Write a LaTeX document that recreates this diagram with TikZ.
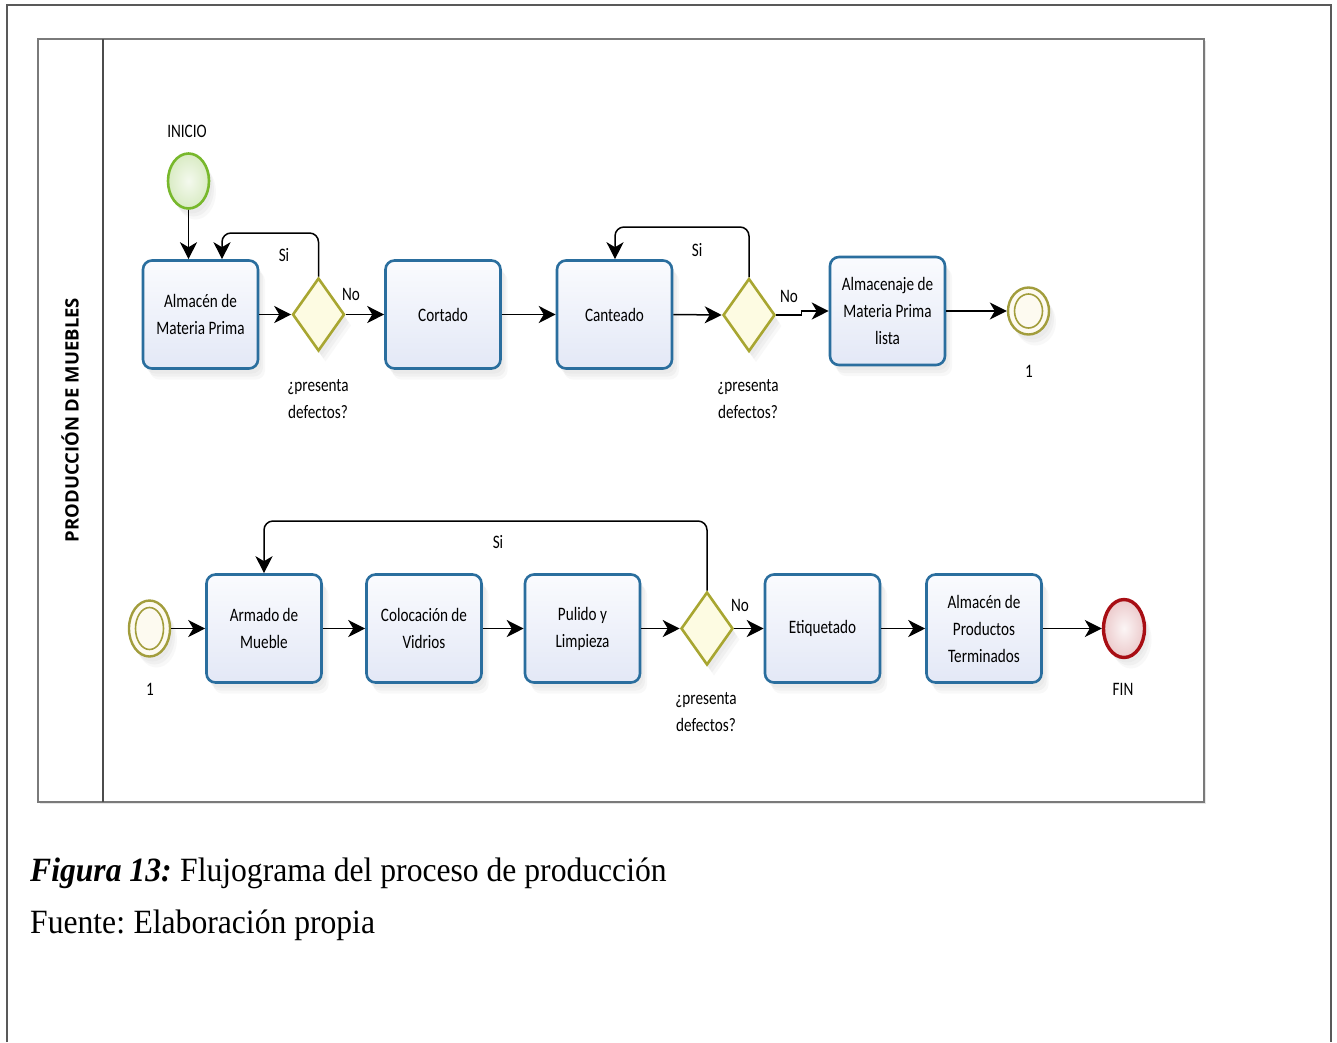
\documentclass[tikz,border=0pt]{standalone}
\usepackage{fontspec}
\setmainfont{Carlito}[FakeStretch=0.8]
\newfontfamily\capfont{Liberation Serif}[FakeStretch=0.93]
\newfontfamily\lanefont{Open Sans}
\usetikzlibrary{shapes.geometric,arrows.meta,shadows,calc}

\definecolor{taskborder}{HTML}{2A6E9E}
\definecolor{tasktop}{HTML}{FAFBFE}
\definecolor{taskbot}{HTML}{E3E8F6}
\definecolor{gateborder}{HTML}{A8A631}
\definecolor{gatefill}{HTML}{FDFBE2}
\definecolor{startborder}{HTML}{78B82C}
\definecolor{linkborder}{HTML}{A29D3C}
\definecolor{linkfill}{HTML}{FDFAF0}
\definecolor{endborder}{HTML}{A80E14}
\definecolor{poolline}{HTML}{7A7A7A}

\tikzset{
  softshadow/.style={
    drop shadow={opacity=0.06, shadow xshift=3pt, shadow yshift=-5pt},
    drop shadow={opacity=0.06, shadow xshift=5pt, shadow yshift=-8pt},
    drop shadow={opacity=0.05, shadow xshift=7pt, shadow yshift=-11pt}},
  task/.style={rectangle, rounded corners=9pt, draw=taskborder, line width=2.6pt,
    top color=tasktop, bottom color=taskbot, minimum width=115pt,
    minimum height=108pt, align=center, font=\fontsize{19}{27}\selectfont,
    inner sep=2pt, softshadow},
  gateway/.style={diamond, draw=gateborder, line width=2.6pt, fill=gatefill,
    minimum width=52pt, minimum height=73pt, inner sep=0pt, aspect=0.7, softshadow},
  flow/.style={line width=1.5pt, -{Stealth[length=17pt,width=17pt,inset=5pt]}},
  loop/.style={flow, rounded corners=9pt},
  lbl/.style={font=\fontsize{19}{27}\selectfont, inner sep=0pt, align=center},
}

\begin{document}
\begin{tikzpicture}[x=1pt, y=-1pt]
\useasboundingbox (0,0) rectangle (1337,1042);

% page frame (open at the bottom)
\draw[line width=1.4pt, color=black!65] (7,1042) -- (7,5) -- (1331,5) -- (1331,1042);

% pool and lane
\draw[line width=2pt, color=poolline, drop shadow={opacity=0.2, shadow xshift=1.5pt, shadow yshift=-1.5pt}, fill=white]
  (38,39) rectangle (1204,802);
\draw[line width=1.4pt, color=black!70] (103,39) -- (103,802);
\node[rotate=90, inner sep=0pt] (lane) at (70,420)
  {\resizebox{244pt}{!}{\lanefont\bfseries PRODUCCIÓN DE MUEBLES}};

% ---------- first row ----------
\node[ellipse, draw=startborder, line width=2.6pt, minimum width=41pt, minimum height=55pt,
  inner color=startborder!8, outer color=startborder!28, softshadow] (inicio) at (188.5,181) {};
\node[lbl] (inicioL) at (187,131) {INICIO};

\node[task] (b1) at (200.5,314.5) {Almacén de\\Materia Prima};
\node[gateway] (d1) at (318.5,314.5) {};
\node[task] (b2) at (443,314.5) {Cortado};
\node[task] (b3) at (614.5,314.5) {Canteado};
\node[gateway] (d2) at (749,315) {};
\node[task] (b4) at (887.5,311) {Almacenaje de\\Materia Prima\\lista};

\node[ellipse, draw=linkborder, line width=2.4pt, fill=linkfill, minimum width=41pt,
  minimum height=47pt, softshadow] (e1) at (1028.5,311) {};
\draw[linkborder, line width=1.6pt] (e1.center) ellipse [x radius=14pt, y radius=17pt];
\node[lbl] (e1L) at (1029,371) {1};

\node[lbl] (q1) at (318,399) {¿presenta\\defectos?};
\node[lbl] (q2) at (748,399) {¿presenta\\defectos?};
\node[lbl] (si1) at (284,255) {Si};
\node[lbl] (no1) at (351,294) {No};
\node[lbl] (si2) at (697,250) {Si};
\node[lbl] (no2) at (789,296) {No};

\draw[flow] (inicio.south) -- (inicio.south |- b1.north);
\draw[flow] (b1.east) -- (d1.west);
\draw[flow] (d1.east) -- (b2.west);
\draw[flow] (b2.east) -- (b3.west);
\draw[flow] (b3.east) -- (d2.west);
\draw[flow] (d2.east) -- ++(25,0) |- (b4.west);
\draw[flow] (b4.east) -- (e1.west);

\coordinate (r1) at (222,233);
\coordinate (r2) at (615,227);
\draw[loop] (d1.north) |- (r1) -- (r1 |- b1.north);
\draw[loop] (d2.north) |- (r2) -- (r2 |- b3.north);

% ---------- second row ----------
\node[ellipse, draw=linkborder, line width=2.4pt, fill=linkfill, minimum width=41pt,
  minimum height=56pt, softshadow] (e2) at (149.5,628.5) {};
\draw[linkborder, line width=1.6pt] (e2.center) ellipse [x radius=14pt, y radius=21pt];
\node[lbl] (e2L) at (150,689) {1};

\node[task] (c1) at (264,628.5) {Armado de\\Mueble};
\node[task] (c2) at (424,628.5) {Colocación de\\Vidrios};
\node[task] (c3) at (582.5,628.5) {Pulido y\\Limpieza};
\node[gateway] (d3) at (707,628.5) {};
\node[task] (c4) at (822.5,628.5) {Etiquetado};
\node[task] (c5) at (984,628.5) {Almacén de\\Productos\\Terminados};

\node[ellipse, draw=endborder, line width=3.4pt, minimum width=41pt, minimum height=58pt,
  inner color=endborder!4, outer color=endborder!22, softshadow] (fin) at (1124,628.5) {};
\node[lbl] (finL) at (1123,689) {FIN};

\node[lbl] (q3) at (706,712) {¿presenta\\defectos?};
\node[lbl] (si3) at (498,542) {Si};
\node[lbl] (no3) at (740,605) {No};

\draw[flow] (e2.east) -- (c1.west);
\draw[flow] (c1.east) -- (c2.west);
\draw[flow] (c2.east) -- (c3.west);
\draw[flow] (c3.east) -- (d3.west);
\draw[flow] (d3.east) -- (c4.west);
\draw[flow] (c4.east) -- (c5.west);
\draw[flow] (c5.east) -- (fin.west);

\coordinate (r3) at (264,521);
\draw[loop] (d3.north) |- (r3) -- (r3 |- c1.north);

% ---------- caption ----------
\node[anchor=base west, inner sep=0pt, font=\capfont\fontsize{34}{40}\selectfont] (cap1) at (30,881)
  {\textbf{\textit{Figura 13:}}\hspace{-2pt} Flujograma del proceso de producción};
\node[anchor=base west, inner sep=0pt, font=\capfont\fontsize{34}{40}\selectfont] (cap2) at (30,933)
  {Fuente:\hspace{-2pt} Elaboración propia};
\end{tikzpicture}
\end{document}
